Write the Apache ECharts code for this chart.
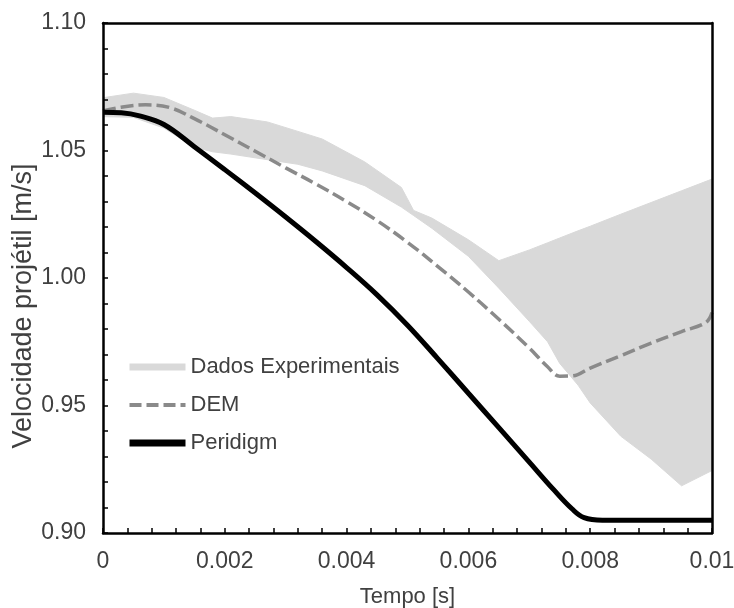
<!DOCTYPE html>
<html>
  <head>
    <title></title>
    <meta charset="UTF-8" />
    <script src="https://cdn.jsdelivr.net/npm/echarts@6/dist/echarts.min.js"></script>
  </head>
  <body style="margin: 0">
    <div id="main"></div>
    <script>
      const width = 734;
      const height = 608;
      const main = document.getElementById('main');
      main.style.width = `${width}px`;
      main.style.height = `${height}px`;

      // Dados Experimentais: faixa (envelope inferior / superior)
      const tempoExp = [0, 0.0005, 0.001, 0.0015, 0.0018, 0.0021, 0.0027, 0.0032, 0.0036, 0.0043, 0.0049, 0.0051, 0.0054, 0.006, 0.0065, 0.007, 0.0073, 0.0075, 0.0078, 0.008, 0.0085, 0.009, 0.0095, 0.01];
      const expSuperior = [1.0707, 1.0725, 1.0708, 1.0658, 1.0627, 1.0633, 1.0612, 1.0575, 1.0545, 1.0455, 1.0355, 1.0265, 1.0235, 1.015, 1.0068, 1.011, 1.0138, 1.0157, 1.0185, 1.0203, 1.025, 1.0296, 1.0342, 1.0388];
      const expInferior = [1.0633, 1.063, 1.0588, 1.0513, 1.0495, 1.0486, 1.0464, 1.0446, 1.042, 1.0362, 1.0278, 1.0245, 1.0195, 1.0085, 0.996, 0.983, 0.975, 0.9665, 0.958, 0.951, 0.938, 0.929, 0.9185, 0.9245];

      // DEM
      const tempoDem = [0, 0.0003, 0.0007, 0.0011, 0.0015, 0.002, 0.0025, 0.003, 0.0035, 0.004, 0.0045, 0.005, 0.0055, 0.006, 0.0065, 0.007, 0.0073, 0.0075, 0.0077, 0.008, 0.0085, 0.009, 0.0095, 0.0099, 0.01];
      const dem = [1.0655, 1.067, 1.0679, 1.0668, 1.0625, 1.0562, 1.0497, 1.0432, 1.0368, 1.03, 1.0225, 1.014, 1.0045, 0.9945, 0.9838, 0.9725, 0.9652, 0.9615, 0.9616, 0.9647, 0.9695, 0.9745, 0.979, 0.9826, 0.9865];

      // Peridigm
      const tempoPeri = [0, 0.0003, 0.0006, 0.001, 0.0015, 0.002, 0.0025, 0.003, 0.0035, 0.004, 0.0045, 0.005, 0.0055, 0.006, 0.0065, 0.007, 0.0074, 0.0077, 0.0079, 0.0082, 0.009, 0.01];
      const peridigm = [1.065, 1.0648, 1.0636, 1.0602, 1.0515, 1.0425, 1.0333, 1.0239, 1.0142, 1.0041, 0.9934, 0.9815, 0.9683, 0.9548, 0.9413, 0.9278, 0.917, 0.9095, 0.906, 0.905, 0.905, 0.905];

      const xTickLabels = ['0', '0.002', '0.004', '0.006', '0.008', '0.01'];

      const font = 'Liberation Sans, Arial, sans-serif';
      const textColor = '#404040';

      const pairs = (xs, ys) => xs.map((x, i) => [x, ys[i]]);

      const myChart = echarts.init(main);
      const option = {
        animation: false,
        textStyle: { fontFamily: font },
        grid: {
          left: 103,
          right: 22,
          top: 23,
          bottom: 75,
          outerBoundsMode: 'none',
        },
        legend: {
          orient: 'vertical',
          left: 126,
          top: 355,
          padding: 0,
          itemWidth: 56,
          itemHeight: 24,
          itemGap: 14,
          textStyle: {
            fontFamily: font,
            fontSize: 22,
            lineHeight: 24,
            color: textColor,
          },
          data: [
            {
              name: 'Dados Experimentais',
              lineStyle: { color: '#d9d9d9', width: 7, type: 'solid' },
              itemStyle: { opacity: 0 },
            },
            {
              name: 'DEM',
              lineStyle: { color: '#8a8a8a', width: 4, type: [12, 5] },
              itemStyle: { opacity: 0 },
            },
            {
              name: 'Peridigm',
              lineStyle: { color: '#000', width: 7 },
              itemStyle: { opacity: 0 },
            },
          ],
        },
        xAxis: [
          {
            type: 'value',
            min: 0,
            max: 0.01,
            interval: 0.002,
            z: 10,
            name: 'Tempo [s]',
            nameLocation: 'middle',
            nameGap: 53,
            nameTextStyle: { fontFamily: font, fontSize: 22, color: textColor },
            axisLine: { lineStyle: { color: '#000', width: 2.5 } },
            axisTick: { inside: true, length: 5, lineStyle: { color: '#000', width: 1.5 } },
            minorTick: { show: true, splitNumber: 5, length: 5, lineStyle: { color: '#000', width: 1.5 } },
            splitLine: { show: false },
            axisLabel: {
              margin: 17,
              fontFamily: font,
              fontSize: 23,
              color: textColor,
              formatter: (v, i) => xTickLabels[i],
            },
          },
          {
            type: 'value',
            position: 'top',
            min: 0,
            max: 0.01,
            z: 10,
            axisLine: { show: true, onZero: false, lineStyle: { color: '#000', width: 2.5 } },
            axisTick: { show: false },
            axisLabel: { show: false },
            splitLine: { show: false },
          },
        ],
        yAxis: [
          {
            type: 'value',
            min: 0.9,
            max: 1.1,
            interval: 0.05,
            z: 10,
            name: 'Velocidade projétil [m/s]',
            nameLocation: 'middle',
            nameGap: 66,
            nameMoveOverlap: false,
            nameTextStyle: {
              fontFamily: font,
              fontSize: 27,
              color: textColor,
              padding: [0, 56, 0, 0],
            },
            axisLine: { show: true, lineStyle: { color: '#000', width: 2.5 } },
            axisTick: { show: true, inside: true, length: 5, lineStyle: { color: '#000', width: 1.5 } },
            minorTick: { show: true, splitNumber: 5, length: 5, lineStyle: { color: '#000', width: 1.5 } },
            splitLine: { show: false },
            axisLabel: {
              margin: 17,
              fontFamily: font,
              fontSize: 23,
              color: textColor,
              formatter: (v) => v.toFixed(2),
            },
          },
          {
            type: 'value',
            position: 'right',
            min: 0.9,
            max: 1.1,
            z: 10,
            axisLine: { show: true, onZero: false, lineStyle: { color: '#000', width: 2.5 } },
            axisTick: { show: false },
            axisLabel: { show: false },
            splitLine: { show: false },
          },
        ],
        series: [
          {
            // envelope superior: preenche até o fundo do eixo
            name: 'Dados Experimentais',
            type: 'line',
            symbol: 'none',
            silent: true,
            color: '#d9d9d9',
            lineStyle: { width: 1, color: '#d9d9d9' },
            areaStyle: { color: '#d9d9d9', opacity: 1, origin: 'start' },
            data: pairs(tempoExp, expSuperior),
          },
          {
            // envelope inferior: recobre em branco abaixo da faixa
            name: 'exp-inferior',
            type: 'line',
            symbol: 'none',
            silent: true,
            lineStyle: { width: 1, color: '#d9d9d9' },
            areaStyle: { color: '#fff', opacity: 1, origin: 'start' },
            data: pairs(tempoExp, expInferior),
          },
          {
            name: 'DEM',
            type: 'line',
            symbol: 'none',
            smooth: 0.4,
            color: '#8a8a8a',
            lineStyle: { color: '#8a8a8a', width: 3.5, type: [13, 5] },
            data: pairs(tempoDem, dem),
          },
          {
            name: 'Peridigm',
            type: 'line',
            symbol: 'none',
            smooth: 0.4,
            color: '#000',
            lineStyle: { color: '#000', width: 5 },
            data: pairs(tempoPeri, peridigm),
          },
        ],
      };
      myChart.setOption(option);
    </script>
  </body>
</html>
